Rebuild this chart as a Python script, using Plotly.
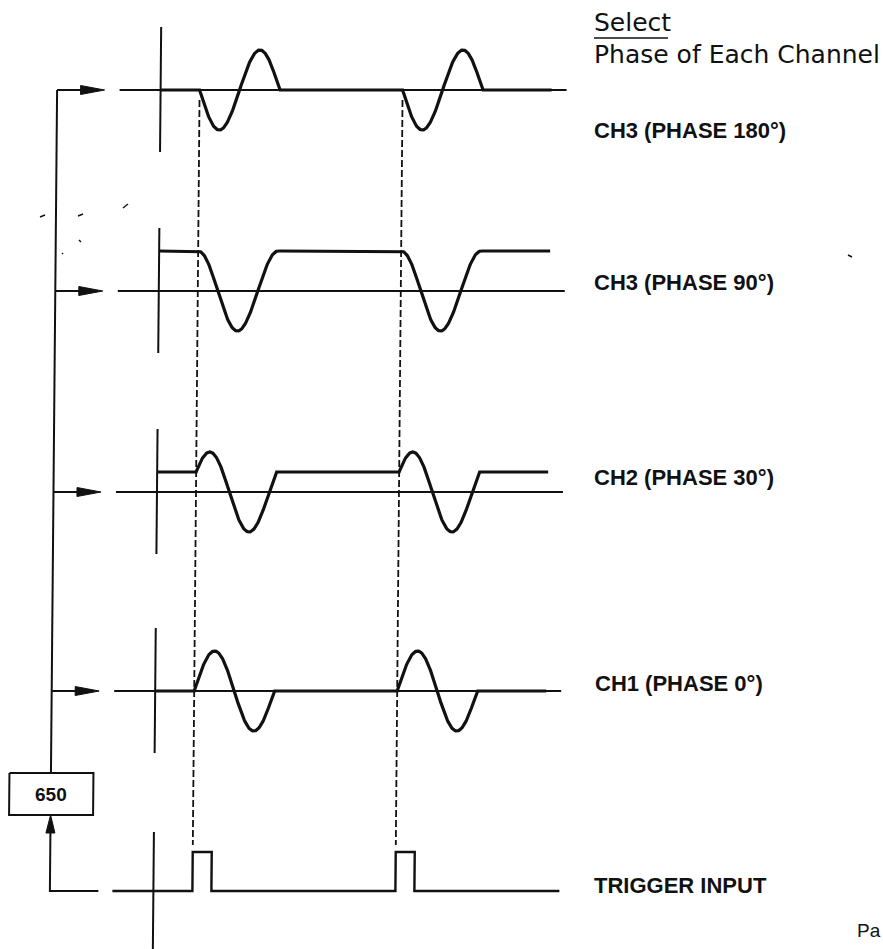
import numpy as np
import plotly.graph_objects as go

# ---------------- data ----------------
CHANNEL_LABELS = ["CH3 (PHASE 180°)", "CH3 (PHASE 90°)", "CH2 (PHASE 30°)", "CH1 (PHASE 0°)"]
PHASES_DEG = [180, 90, 30, 0]
TRIGGER_TIMES = [196, 399]          # trigger instants (time axis units)
BURST_PERIOD = 80                   # one cycle per trigger
BURST_AMPLITUDE = 40
PULSE_WIDTH = 19
PULSE_HEIGHT = 39
BOX_LABEL = "650"
TRIGGER_LABEL = "TRIGGER INPUT"
HEADER = ["Select", "Phase of Each Channel"]
PAGE_FRAGMENT = "Pa"

# ---------------- layout constants ----------------
W, H = 883, 949
ROW_Y = [90, 291, 492, 691]
TRIG_Y = 891
LABEL_POS = [(592, 130), (592, 282), (592, 477), (593, 683)]
TRIG_LABEL_POS = (592, 885)
AXIS_X = 157
FEED_X = 53.5
ARROW_TIP = 101
BASE_START, BASE_END = 116, 563
SIG_END = 548
SHEAR = -0.009       # slight scan rotation
YMID = 490

INK = "#111111"
LABEL_FONT = dict(family="Liberation Sans, Arial", size=22, color=INK, weight="bold")


def sx(x, y):
    x = np.asarray(x, dtype=float)
    y = np.asarray(y, dtype=float)
    return x + SHEAR * (y - YMID)


fig = go.Figure()


def line(xs, ys, width=2.0, dash=None, color=INK):
    xs = np.asarray(xs, dtype=float)
    ys = np.asarray(ys, dtype=float)
    fig.add_trace(go.Scatter(
        x=sx(xs, ys), y=ys, mode="lines",
        line=dict(color=color, width=width, dash=dash, shape="linear"),
        hoverinfo="skip", showlegend=False))


def poly(xs, ys, color=INK):
    xs = np.asarray(xs, dtype=float)
    ys = np.asarray(ys, dtype=float)
    fig.add_trace(go.Scatter(
        x=sx(xs, ys), y=ys, mode="lines", fill="toself", fillcolor=color,
        line=dict(color=color, width=1), hoverinfo="skip", showlegend=False))


def signal(phase_deg, t):
    ph = np.deg2rad(phase_deg)
    out = np.full_like(t, np.sin(ph))
    for t0 in TRIGGER_TIMES:
        m = (t >= t0) & (t <= t0 + BURST_PERIOD)
        out[m] = np.sin(ph + 2 * np.pi * (t[m] - t0) / BURST_PERIOD)
    return out


# channel rows
t = np.arange(AXIS_X, SIG_END + 0.5, 0.5)
for label, phase, y0, (lx, ly) in zip(CHANNEL_LABELS, PHASES_DEG, ROW_Y, LABEL_POS):
    line([AXIS_X, AXIS_X], [y0 - 63, y0 + 62], width=2)          # scope vertical axis
    line([BASE_START, BASE_END], [y0, y0], width=2)              # baseline
    ys = y0 - BURST_AMPLITUDE * signal(phase, t)                 # waveform
    line(t, ys, width=3.2)
    line([FEED_X, ARROW_TIP - 20], [y0, y0], width=2)            # arrow shaft
    poly([ARROW_TIP - 24, ARROW_TIP, ARROW_TIP - 24, ARROW_TIP - 24],
         [y0 - 4.5, y0, y0 + 4.5, y0 - 4.5])
    fig.add_annotation(x=lx, y=ly, text=label, showarrow=False, xanchor="left",
                       yanchor="middle", font=LABEL_FONT)

# trigger row
line([AXIS_X, AXIS_X], [TRIG_Y - 59, H + 5], width=2)
tx = [BASE_START]
ty = [TRIG_Y]
for t0 in TRIGGER_TIMES:
    tx += [t0, t0, t0 + PULSE_WIDTH, t0 + PULSE_WIDTH]
    ty += [TRIG_Y, TRIG_Y - PULSE_HEIGHT, TRIG_Y - PULSE_HEIGHT, TRIG_Y]
tx.append(BASE_END)
ty.append(TRIG_Y)
line(tx, ty, width=2.4)
fig.add_annotation(x=TRIG_LABEL_POS[0], y=TRIG_LABEL_POS[1], text=TRIGGER_LABEL, showarrow=False,
                   xanchor="left", yanchor="middle", font=LABEL_FONT)

# dashed trigger markers
for t0 in TRIGGER_TIMES:
    line([t0, t0], [100, TRIG_Y - PULSE_HEIGHT - 7], width=1.8, dash="7px,3px")

# feedback path: trigger -> 650 -> channels
BOX_TOP, BOX_BOT = 773, 815
BOX_L, BOX_R = 12, 96
line([102, FEED_X, FEED_X], [TRIG_Y, TRIG_Y, BOX_BOT + 15], width=2)
poly([FEED_X - 4.5, FEED_X, FEED_X + 4.5, FEED_X - 4.5],
     [BOX_BOT + 18, BOX_BOT, BOX_BOT + 18, BOX_BOT + 18])
line([BOX_L, BOX_R, BOX_R, BOX_L, BOX_L], [BOX_TOP, BOX_TOP, BOX_BOT, BOX_BOT, BOX_TOP], width=2)
line([FEED_X, FEED_X], [BOX_TOP, ROW_Y[0]], width=2)
fig.add_annotation(x=float(sx(FEED_X, 794)), y=794, text=BOX_LABEL, showarrow=False,
                   xanchor="center", yanchor="middle",
                   font=dict(family="Liberation Sans, Arial", size=19, color=INK, weight="bold"))

# header
HEADER_FONT = dict(family="DejaVu Sans", size=25, color=INK)
fig.add_annotation(x=592, y=22, text=HEADER[0], showarrow=False, xanchor="left", yanchor="middle",
                   font=HEADER_FONT)
fig.add_shape(type="line", x0=594, x1=668, y0=38, y1=38, line=dict(color=INK, width=1.6))
fig.add_annotation(x=592, y=54, text=HEADER[1], showarrow=False, xanchor="left", yanchor="middle",
                   font=HEADER_FONT)
fig.add_annotation(x=883, y=930, text=PAGE_FRAGMENT, showarrow=False, xanchor="right", yanchor="middle",
                   font=dict(family="Liberation Sans, Arial", size=19, color=INK))

# scan specks
SPECKS = [((40, 217), (45, 215)), ((78, 216), (83, 214)), ((123, 208), (128, 204)),
          ((79, 240), (81, 242)), ((62, 253), (63, 254)), ((848, 255), (852, 257))]
for (x0, y0), (x1, y1) in SPECKS:
    fig.add_shape(type="line", x0=x0, y0=y0, x1=x1, y1=y1, line=dict(color=INK, width=1.5))

fig.update_layout(
    width=W, height=H, margin=dict(l=0, r=0, t=0, b=0),
    paper_bgcolor="white", plot_bgcolor="white",
    xaxis=dict(range=[0, W], visible=False, fixedrange=True),
    yaxis=dict(range=[H, 0], visible=False, fixedrange=True),
    showlegend=False,
)
fig.write_html("out.html", config={"displayModeBar": False},
               post_script="document.body.style.margin='0';document.body.style.overflow='hidden';")
